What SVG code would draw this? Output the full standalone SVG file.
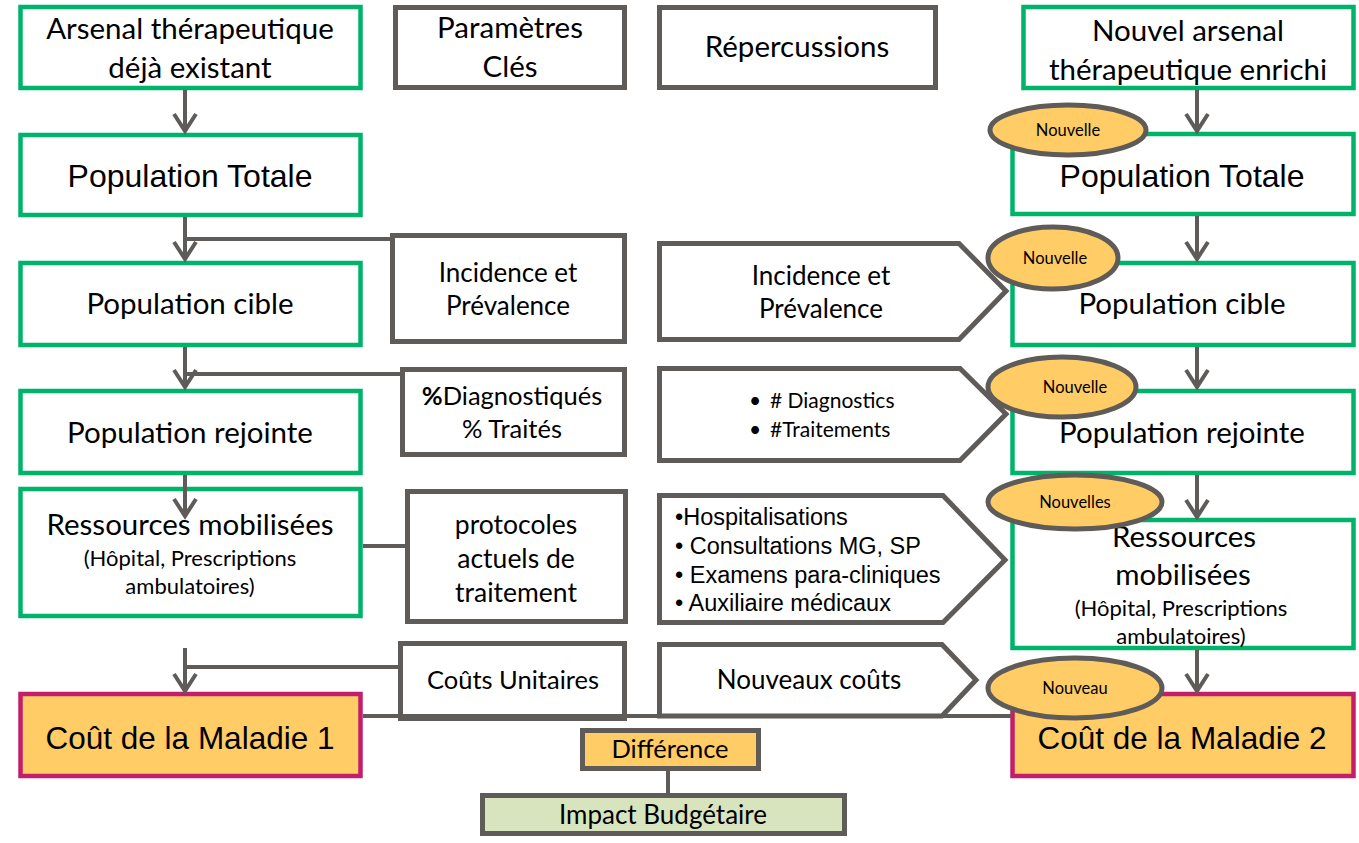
<svg xmlns="http://www.w3.org/2000/svg" width="1359" height="843" viewBox="0 0 1359 843">
  <defs>
    <style>
      .green { fill: #ffffff; stroke: #00B36B; stroke-width: 4.5; }
      .param { fill: #ffffff; stroke: #5F5B58; stroke-width: 5; }
      .cost { fill: #FFCC66; stroke: #C21E6B; stroke-width: 4.5; }
      .diff { fill: #FFCC66; stroke: #5F5B58; stroke-width: 5; }
      .impact { fill: #D7E4BD; stroke: #5F5B58; stroke-width: 5; }
      .tag { fill: #FFCC66; stroke: #5F5B58; stroke-width: 5; }
      .link { fill: none; stroke: #5F5B58; stroke-width: 4; }
      .t { font-family: Lato, "Open Sans", sans-serif; fill: #000000; text-anchor: middle; }
      .ts { font-family: Lato, "Open Sans", sans-serif; fill: #000000; text-anchor: start; }
      .a { font-family: "Liberation Sans", Arial, sans-serif; fill: #000000; text-anchor: start; }
      .am { font-family: "Liberation Sans", Arial, sans-serif; fill: #000000; text-anchor: middle; }
    </style>
    <marker id="arrow" markerUnits="userSpaceOnUse" viewBox="-20 -14 24 28" markerWidth="24" markerHeight="28" refX="0" refY="0" orient="auto">
      <path d="M-17,-11 L0,0 L-17,11" fill="none" stroke="#5F5B58" stroke-width="4"/>
    </marker>
  </defs>

  <!-- column headers -->
  <g id="arsenal-existant">
    <rect class="green" x="20.5" y="7" width="340" height="81"/>
    <text class="t" font-size="29.5" x="190" y="39">Arsenal thérapeutique</text>
    <text class="t" font-size="29.5" x="190" y="78">déjà existant</text>
  </g>
  <g id="parametres-cles">
    <rect class="param" x="395.5" y="7.5" width="229" height="80"/>
    <text class="t" font-size="29.5" x="510" y="38">Paramètres</text>
    <text class="t" font-size="29.5" x="510" y="77">Clés</text>
  </g>
  <g id="repercussions">
    <rect class="param" x="659.5" y="7.5" width="276" height="80"/>
    <text class="t" font-size="29.5" x="797" y="57">Répercussions</text>
  </g>
  <g id="nouvel-arsenal">
    <rect class="green" x="1023.5" y="7" width="330" height="81"/>
    <text class="t" font-size="29.5" x="1188" y="41">Nouvel arsenal</text>
    <text class="t" font-size="29.5" x="1188" y="80">thérapeutique enrichi</text>
  </g>

  <!-- left column -->
  <g id="population-totale-1">
    <rect class="green" x="20.5" y="135" width="340" height="80"/>
    <text class="am" font-size="32" x="190" y="187">Population Totale</text>
  </g>
  <g id="population-cible-1">
    <rect class="green" x="20.5" y="263" width="340" height="82"/>
    <text class="t" font-size="29.5" x="190" y="314">Population cible</text>
  </g>
  <g id="population-rejointe-1">
    <rect class="green" x="20.5" y="391" width="340" height="82"/>
    <text class="t" font-size="29.5" x="190" y="443">Population rejointe</text>
  </g>
  <g id="ressources-1">
    <rect class="green" x="20.5" y="489" width="340" height="127"/>
    <text class="t" font-size="29.5" x="190" y="535">Ressources mobilisées</text>
    <text class="t" font-size="22" x="190" y="566">(Hôpital, Prescriptions</text>
    <text class="t" font-size="22" x="190" y="594">ambulatoires)</text>
  </g>
  <g id="cout-maladie-1">
    <rect class="cost" x="20.5" y="694" width="340" height="82"/>
    <text class="am" font-size="31.5" x="190" y="749">Coût de la Maladie 1</text>
  </g>

  <!-- key parameters -->
  <g id="incidence-1">
    <rect class="param" x="392.5" y="235.5" width="232" height="106"/>
    <text class="t" font-size="26" x="508" y="282">Incidence et</text>
    <text class="t" font-size="26" x="508" y="315">Prévalence</text>
  </g>
  <g id="diagnostiques">
    <rect class="param" x="402.5" y="369.5" width="222" height="85"/>
    <text class="t" font-size="25.5" x="512" y="405"><tspan font-weight="bold">%</tspan>Diagnostiqués</text>
    <text class="t" font-size="25.5" x="512" y="438">% Traités</text>
  </g>
  <g id="protocoles">
    <rect class="param" x="407.5" y="491.5" width="218" height="130"/>
    <text class="t" font-size="26.5" x="516" y="534">protocoles</text>
    <text class="t" font-size="26.5" x="516" y="568">actuels de</text>
    <text class="t" font-size="26.5" x="516" y="602">traitement</text>
  </g>
  <g id="couts-unitaires">
    <rect class="param" x="400.5" y="643.5" width="224" height="75"/>
    <text class="t" font-size="25.5" x="513" y="689">Coûts Unitaires</text>
  </g>

  <!-- repercussions -->
  <g id="incidence-2">
    <polygon class="param" points="659.5,243.5 959,243.5 1006,291 959,339.5 659.5,339.5"/>
    <text class="t" font-size="26" x="821" y="285">Incidence et</text>
    <text class="t" font-size="26" x="821" y="318">Prévalence</text>
  </g>
  <g id="diagnostics-traitements">
    <polygon class="param" points="659.5,368.5 960,368.5 1006,414 960,460.5 659.5,460.5"/>
    <text class="ts" font-size="21" x="749" y="408">•</text>
    <text class="ts" font-size="21" x="770" y="408"># Diagnostics</text>
    <text class="ts" font-size="21" x="749" y="437">•</text>
    <text class="ts" font-size="21" x="770" y="437">#Traitements</text>
  </g>
  <g id="hospitalisations">
    <polygon class="param" points="659.5,495.5 943,495.5 1005,560 943,622.5 659.5,622.5"/>
    <text class="a" font-size="23.5" x="675" y="525">•Hospitalisations</text>
    <text class="a" font-size="23.5" x="675" y="554">• Consultations MG, SP</text>
    <text class="a" font-size="23.5" x="675" y="583">• Examens para-cliniques</text>
    <text class="a" font-size="23.5" x="675" y="611">• Auxiliaire médicaux</text>
  </g>
  <g id="nouveaux-couts">
    <polygon class="param" points="659.5,644.5 942,644.5 976,680 942,716 659.5,716"/>
    <text class="t" font-size="26" x="809" y="689">Nouveaux coûts</text>
  </g>

  <!-- right column -->
  <g id="population-totale-2">
    <rect class="green" x="1012.5" y="134" width="341" height="80"/>
    <text class="am" font-size="32" x="1182" y="187">Population Totale</text>
  </g>
  <g id="population-cible-2">
    <rect class="green" x="1012.5" y="263" width="341" height="82"/>
    <text class="t" font-size="29.5" x="1182" y="314">Population cible</text>
  </g>
  <g id="population-rejointe-2">
    <rect class="green" x="1012.5" y="391" width="341" height="82"/>
    <text class="t" font-size="29.5" x="1182" y="443">Population rejointe</text>
  </g>
  <g id="ressources-2">
    <rect class="green" x="1012.5" y="520" width="341" height="128"/>
    <text class="t" font-size="29.5" x="1184" y="547">Ressources</text>
    <text class="t" font-size="29.5" x="1183" y="585">mobilisées</text>
    <text class="t" font-size="22" x="1181" y="616">(Hôpital, Prescriptions</text>
    <text class="t" font-size="22" x="1181" y="644">ambulatoires)</text>
  </g>
  <g id="cout-maladie-2">
    <rect class="cost" x="1012.5" y="694" width="341" height="82"/>
    <text class="am" font-size="31.5" x="1182" y="749">Coût de la Maladie 2</text>
  </g>

  <!-- outcome -->
  <g id="difference">
    <rect class="diff" x="582.5" y="730.5" width="176" height="38"/>
    <text class="t" font-size="25.5" x="670" y="758">Différence</text>
  </g>
  <g id="impact-budgetaire">
    <rect class="impact" x="482.5" y="795.5" width="362" height="38"/>
    <text class="t" font-size="26" x="663" y="824">Impact Budgétaire</text>
  </g>

  <!-- connectors -->
  <g id="connectors">
    <line class="link" x1="185" y1="90" x2="185" y2="131" marker-end="url(#arrow)"/>
    <line class="link" x1="185" y1="217" x2="185" y2="259" marker-end="url(#arrow)"/>
    <line class="link" x1="185" y1="239" x2="392" y2="239"/>
    <line class="link" x1="185" y1="347" x2="185" y2="387" marker-end="url(#arrow)"/>
    <line class="link" x1="185" y1="374" x2="402" y2="374"/>
    <line class="link" x1="185" y1="475" x2="185" y2="516" marker-end="url(#arrow)"/>
    <line class="link" x1="363" y1="546" x2="405" y2="546"/>
    <line class="link" x1="185" y1="648" x2="185" y2="691" marker-end="url(#arrow)"/>
    <line class="link" x1="185" y1="667" x2="398" y2="667"/>
    <line class="link" x1="1197" y1="90" x2="1197" y2="131" marker-end="url(#arrow)"/>
    <line class="link" x1="1197" y1="216" x2="1197" y2="259" marker-end="url(#arrow)"/>
    <line class="link" x1="1197" y1="347" x2="1197" y2="387" marker-end="url(#arrow)"/>
    <line class="link" x1="1197" y1="475" x2="1197" y2="517" marker-end="url(#arrow)"/>
    <line class="link" x1="1197" y1="650" x2="1197" y2="691" marker-end="url(#arrow)"/>
    <line class="link" x1="668" y1="771" x2="668" y2="793"/>
    <line class="link" x1="363" y1="716" x2="1012" y2="716" stroke-width="5"/>
  </g>

  <!-- "new" tags -->
  <g id="tag-totale">
    <ellipse class="tag" cx="1068" cy="130" rx="78" ry="25"/>
    <text class="t" font-size="16.5" x="1068" y="136">Nouvelle</text>
  </g>
  <g id="tag-cible">
    <ellipse class="tag" cx="1053" cy="258" rx="65" ry="31"/>
    <text class="t" font-size="16.5" x="1055" y="264">Nouvelle</text>
  </g>
  <g id="tag-rejointe">
    <ellipse class="tag" cx="1062" cy="387" rx="74" ry="30"/>
    <text class="t" font-size="16.5" x="1075" y="393">Nouvelle</text>
  </g>
  <g id="tag-ressources">
    <ellipse class="tag" cx="1075" cy="502" rx="87" ry="27"/>
    <text class="t" font-size="16.5" x="1075" y="508">Nouvelles</text>
  </g>
  <g id="tag-cout">
    <ellipse class="tag" cx="1075" cy="688" rx="87" ry="30"/>
    <text class="t" font-size="16.5" x="1075" y="694">Nouveau</text>
  </g>
</svg>
